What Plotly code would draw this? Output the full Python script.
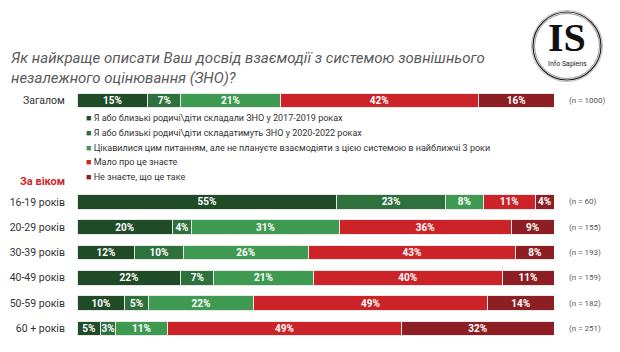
import plotly.graph_objects as go

# ---------------- data ----------------
rows = ["Загалом", "16-19 років", "20-29 років", "30-39 років", "40-49 років", "50-59 років", "60 + років"]
row_pos = [0, 4, 5, 6, 7, 8, 9]
sample_n = ["(n = 1000)", "(n = 60)", "(n = 155)", "(n = 193)", "(n = 159)", "(n = 182)", "(n = 251)"]

series_names = [
    "Я або близькі родичі\\діти складали ЗНО у 2017-2019 роках",
    "Я або близькі родичі\\діти складатимуть ЗНО у 2020-2022 роках",
    "Цікавилися цим питанням, але не плануєте взаємодіяти з цією системою в найближчі 3 роки",
    "Мало про це знаєте",
    "Не знаєте, що це таке",
]
took_2017_2019 = [15, 55, 20, 12, 22, 10, 5]
will_take_2020_2022 = [7, 23, 4, 10, 7, 5, 3]
interested = [21, 8, 31, 26, 21, 22, 11]
know_little = [42, 11, 36, 43, 40, 49, 49]
dont_know = [16, 4, 9, 8, 11, 14, 32]
series_values = [took_2017_2019, will_take_2020_2022, interested, know_little, dont_know]

colors = ["#1f4b27", "#2e713d", "#3f9a51", "#cc2329", "#8d1f24"]

title_text = "Як найкраще описати Ваш досвід взаємодії з системою зовнішнього<br>незалежного оцінювання (ЗНО)?"
group_label = "За віком"

# ---------------- figure ----------------
fig = go.Figure()
for name, vals, col in zip(series_names, series_values, colors):
    fig.add_trace(go.Bar(
        y=row_pos, x=vals, orientation="h", name=name,
        marker=dict(color=col, line=dict(color="#e8e8e8", width=1)),
        width=0.58,
        text=[f"{v}%" for v in vals],
        textposition="inside", insidetextanchor="middle",
        constraintext="none", textangle=0,
        textfont=dict(family="Roboto", size=10, color="white", weight="bold"),
        hoverinfo="skip",
    ))

W_PLOT = 477.0
H_PLOT = 253.0
L, T = 77, 88

def px_x(px):
    return (px - L) / W_PLOT

def px_y(py):
    return (T + H_PLOT - py) / H_PLOT

annotations = []
# sample sizes
for pos, n in zip(row_pos, sample_n):
    annotations.append(dict(x=px_x(567), xref="paper", y=pos, yref="y", text=n,
                            showarrow=False, xanchor="left", yanchor="middle",
                            font=dict(family="Roboto", size=8, color="#555555")))
# legend
leg_y = [0.67, 1.26, 1.86, 2.41, 3.0]
for name, col, yy in zip(series_names, colors, leg_y):
    annotations.append(dict(x=px_x(84), xref="paper", y=yy, yref="y",
                            text=f"<span style='color:{col}'>■</span> {name}",
                            showarrow=False, xanchor="left", yanchor="middle",
                            font=dict(family="Roboto", size=9, color="#333333")))
# group label
annotations.append(dict(x=px_x(18), xref="paper", y=3.2, yref="y", text=f"<b>{group_label}</b>",
                        showarrow=False, xanchor="left", yanchor="middle",
                        font=dict(family="Roboto", size=11, color="#d0282e")))
# title
annotations.append(dict(x=px_x(8), xref="paper", y=px_y(47), yref="paper", text=title_text,
                        showarrow=False, xanchor="left", yanchor="top", align="left",
                        font=dict(family="Roboto", size=15, color="#5a5a5a", style="italic")))
# logo text
annotations.append(dict(x=px_x(567), xref="paper", y=px_y(37), yref="paper", text="<b>IS</b>",
                        showarrow=False, xanchor="center", yanchor="middle",
                        font=dict(family="Liberation Serif", size=40, color="#111111")))
annotations.append(dict(x=px_x(567), xref="paper", y=px_y(64), yref="paper", text="Info Sapiens",
                        showarrow=False, xanchor="center", yanchor="middle",
                        font=dict(family="Roboto", size=7, color="#222222")))

shapes = []
for r, c, w in [(34, "#222222", 1.2), (32.5, "#777777", 0.8), (35.5, "#999999", 0.7)]:
    shapes.append(dict(type="circle", xref="paper", yref="paper",
                       xsizemode="pixel", ysizemode="pixel",
                       xanchor=px_x(567), yanchor=px_y(46),
                       x0=-r, x1=r, y0=-r, y1=r,
                       line=dict(color=c, width=w)))

fig.update_layout(
    width=620, height=352,
    margin=dict(l=L, r=620 - L - int(W_PLOT), t=T, b=352 - T - int(H_PLOT)),
    paper_bgcolor="white", plot_bgcolor="white",
    barmode="stack", barnorm="percent",
    showlegend=False,
    xaxis=dict(range=[0, 100], visible=False, fixedrange=True),
    yaxis=dict(range=[9.5, -0.5], tickvals=row_pos, ticktext=rows,
               ticks="outside", ticklen=9, tickcolor="rgba(0,0,0,0)",
               showgrid=False, zeroline=False, showline=False,
               tickfont=dict(family="Roboto", size=10.5, color="#333333")),
    annotations=annotations,
    shapes=shapes,
    font=dict(family="Roboto"),
)

fig.write_html("out.html")
